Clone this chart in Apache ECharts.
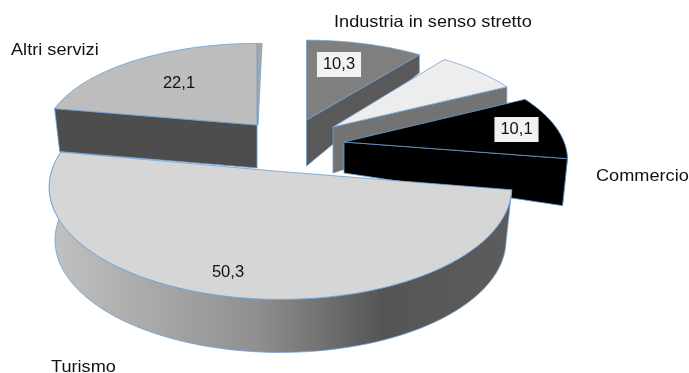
<!DOCTYPE html>
<html>
<head>
<meta charset="utf-8">
<style>html,body{margin:0;padding:0;background:#fff}#c{width:689px;height:373px}</style>
<script src="https://cdn.jsdelivr.net/npm/echarts@6/dist/echarts.min.js"></script>
</head>
<body>
<div id="c"></div>
<script>
// Data, clockwise from 12 o'clock
const categories = ['Industria in senso stretto', '', 'Commercio', 'Turismo', 'Altri servizi'];
const values = [10.3, 7.2, 10.1, 50.3, 22.1];
const valueLabels = ['10,3', '', '10,1', '50,3', '22,1'];

// Layout of the projected slices
const apexX = [306.5, 333, 344, 280.5, 257];
const apexY = [120, 127, 142, 171.5, 125];
const radiusX = [208, 209, 220, 229, 211];
const radiusY = [91, 94, 100, 110, 93];
const shearX = [0, -3, -8, 0, 0];
const depthApex = [46, 46, 31, 53, 43];
const depthRim = [18, 30, 47, 53, 43];
const rimScale = [1, 1, 0.978, 0.975, 0.975];
const wallEdge = ['end', 'end', 'end', null, 'start'];
const faceColors = ['#7f7f7f', '#ededed', '#000000', '#d6d6d6', '#bdbdbd'];
const wallColors = ['#595959', '#737373', '#000000', null, '#4d4d4d'];
const backStrip = [0, 0, 0, 0, 5];
const drawOrder = [1, 2, 3, 5, 6];
const labelX = [339, 0, 516.5, 228, 179];
const labelY = [64.5, 0, 129.5, 272, 83];
const labelBox = [true, false, true, false, false];
const nameX = [334, 0, 596, 51, 11];
const nameY = [22, 0, 176, 367, 50];
const nameStretch = 1.1;
const perspective = 0.14;
const edge = '#6a9fd4';

const total = values.reduce((a, b) => a + b, 0);
function startAngle(i) {
  let s = 0;
  for (let k = 0; k < i; k++) s += values[k];
  return s / total * Math.PI * 2;
}
function project(i, t) {
  const X = Math.sin(t), Y = Math.cos(t), w = 1 + perspective * Y;
  return [apexX[i] + (radiusX[i] * X + shearX[i] * Y) / w, apexY[i] - radiusY[i] * Y / w];
}
function drop(i, p) {
  return [apexX[i] + (p[0] - apexX[i]) * rimScale[i], p[1] + depthRim[i]];
}
const font = '16.5px "Liberation Sans", Arial, sans-serif';

function renderItem(params, api) {
  const i = params.dataIndex;
  const a0 = startAngle(i);
  const a1 = a0 + api.value(0) / total * Math.PI * 2;
  const arc = [];
  const steps = 80;
  for (let k = 0; k <= steps; k++) arc.push(project(i, a0 + (a1 - a0) * k / steps));
  const apex = [apexX[i], apexY[i]];
  const z = drawOrder[i] * 10;
  const children = [];
  const line = { stroke: edge, lineWidth: 0.8 };

  // outer rim wall
  if (wallColors[i] === null || i === 2) {
    const fill = wallColors[i] === null
      ? new echarts.graphic.LinearGradient(0, 0, 1, 0, [
          { offset: 0, color: '#c2c2c2' },
          { offset: 0.45, color: '#8f8f8f' },
          { offset: 0.72, color: '#555555' },
          { offset: 1, color: '#5c5c5c' }
        ])
      : wallColors[i];
    children.push({
      type: 'polygon', z2: z,
      shape: { points: arc.concat(arc.map(p => drop(i, p)).reverse()) },
      style: Object.assign({ fill }, line)
    });
  }
  // thin back wall seen past the straight edge
  if (backStrip[i]) {
    const end = arc[arc.length - 1];
    children.push({
      type: 'polygon', z2: z,
      shape: { points: [apex, end, [end[0] + backStrip[i], end[1]], [apex[0] + 1, apex[1]]] },
      style: Object.assign({ fill: '#a8a8a8' }, line)
    });
  }
  // radial wall
  if (wallEdge[i]) {
    const rim = wallEdge[i] === 'end' ? arc[arc.length - 1] : arc[0];
    children.push({
      type: 'polygon', z2: z + 1,
      shape: { points: [apex, rim, drop(i, rim), [apex[0], apex[1] + depthApex[i]]] },
      style: Object.assign({ fill: wallColors[i] }, line)
    });
  }
  // top face
  children.push({
    type: 'polygon', z2: z + 2,
    shape: { points: [apex].concat(arc) },
    style: Object.assign({ fill: faceColors[i] }, line)
  });
  // labels
  if (valueLabels[i]) {
    const st = {
      text: valueLabels[i], x: labelX[i], y: labelY[i], font, fill: '#111',
      align: 'center', verticalAlign: 'middle'
    };
    if (labelBox[i]) { st.backgroundColor = '#f2f2f2'; st.padding = [4, 6, 4, 6]; }
    children.push({ type: 'text', z2: 200, style: st });
  }
  if (categories[i]) {
    children.push({
      type: 'text', z2: 200,
      x: nameX[i], y: nameY[i], scaleX: nameStretch,
      style: { text: categories[i], x: 0, y: 0, font, fill: '#111',
               align: 'left', verticalAlign: 'middle' }
    });
  }
  return { type: 'group', children };
}

const chart = echarts.init(document.getElementById('c'), null, { renderer: 'canvas' });
chart.setOption({
  animation: false,
  backgroundColor: '#ffffff',
  series: [{
    type: 'custom',
    coordinateSystem: 'none',
    silent: true,
    renderItem,
    data: values.map((v, i) => ({ name: categories[i], value: [v] }))
  }]
});
</script>
</body>
</html>
